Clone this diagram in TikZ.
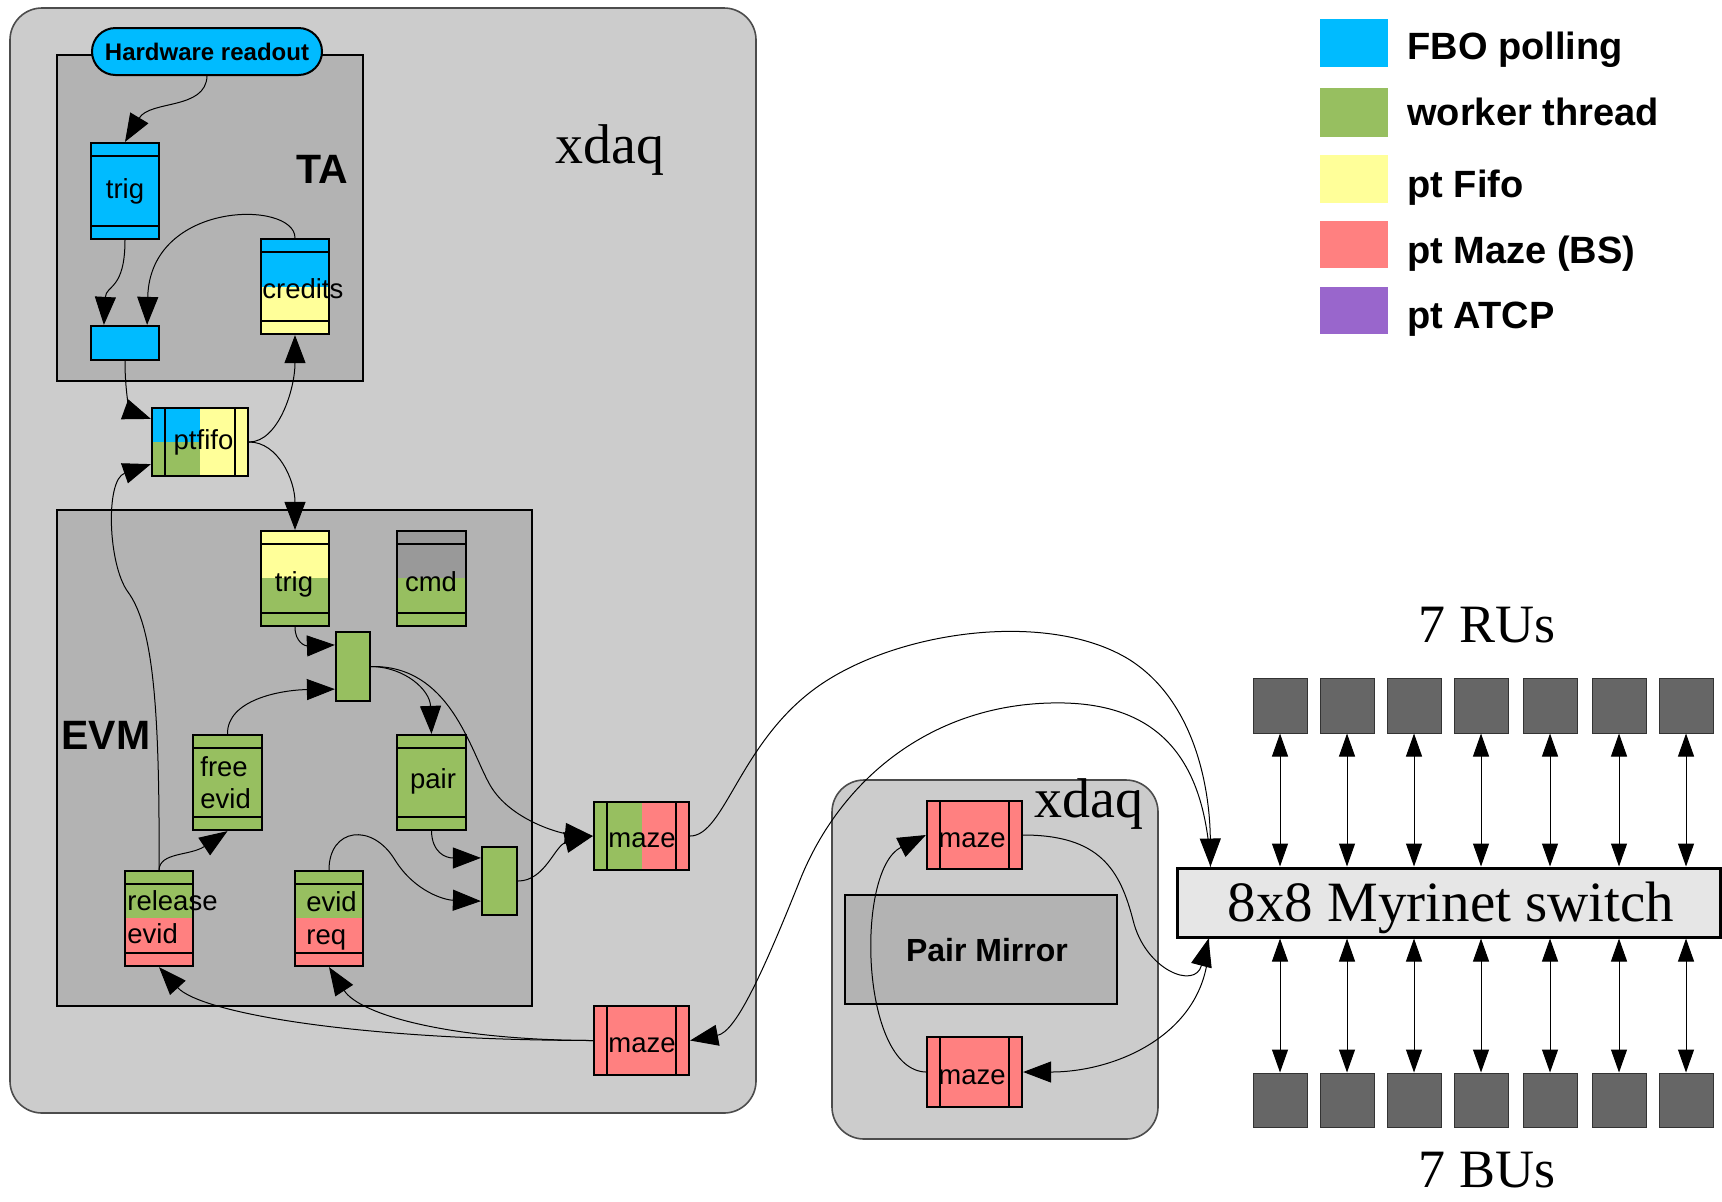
\documentclass[tikz,border=0pt]{standalone}
\usepackage{fontspec}
\setmainfont{Liberation Serif}
\setsansfont{Liberation Sans}
\usetikzlibrary{arrows.meta,fit,calc}
\definecolor{cblue}{RGB}{0,187,255}
\definecolor{cgreen}{RGB}{151,191,96}
\definecolor{cyel}{RGB}{255,255,153}
\definecolor{cred}{RGB}{255,128,128}
\definecolor{cpurp}{RGB}{153,102,204}
\definecolor{bgA}{RGB}{204,204,204}
\definecolor{bgB}{RGB}{179,179,179}
\definecolor{cgray}{RGB}{153,153,153}
\definecolor{cdark}{RGB}{102,102,102}
\definecolor{cswitch}{RGB}{230,230,230}
\newcommand{\vq}[8]{%
  \fill[#6] (#2,#3) rectangle (#4,#8);
  \fill[#7] (#2,#8) rectangle (#4,#5);
  \draw[line width=1.1pt] (#2,#3+13) -- (#4,#3+13) (#2,#5-13) -- (#4,#5-13);
  \node[qbox, fit={(#2,#3)(#4,#5)}] (#1) {};
}
\newcommand{\hqf}[5]{%
  \draw[line width=1.1pt] (#2+13,#3) -- (#2+13,#5) (#4-13,#3) -- (#4-13,#5);
  \node[qbox, fit={(#2,#3)(#4,#5)}] (#1) {};
}
\begin{document}
\begin{tikzpicture}[x=0.5pt,y=-0.5pt,
  qbox/.style={draw=black, line width=1.1pt, inner sep=0pt},
  conn/.style={line width=0.5pt, -{Triangle[length=14pt,width=10.5pt]}},
  dbl/.style={line width=0.5pt, {Triangle[length=11.5pt,width=8pt]}-{Triangle[length=11.5pt,width=8pt]}},
  lbl/.style={font=\sffamily\fontsize{13.75}{16}\selectfont, inner sep=0pt},
  blbl/.style={font=\sffamily\bfseries\fontsize{20.5}{24}\selectfont, inner sep=0pt},
  leg/.style={font=\sffamily\bfseries\fontsize{19}{22}\selectfont, inner sep=0pt, anchor=base west},
  serif/.style={font=\rmfamily\fontsize{28}{32}\selectfont, inner sep=0pt},
  xbox/.style={draw=black!70, line width=0.8pt, fill=bgA, inner sep=0pt, rounded corners=16pt},
  gbox/.style={draw=black, line width=1pt, fill=bgB, inner sep=0pt},
  unit/.style={draw=black!80, line width=0.5pt, fill=cdark, inner sep=0pt}]
\useasboundingbox (0,0) rectangle (1722,1201);
\fill[white] (0,0) rectangle (1722,1201);

% ---------- left xdaq ----------
\node[xbox, fit={(10,8)(756,1113)}] (xdaqA) {};
\node[serif, anchor=base] (xdaqAt) at (610,163) {xdaq};
\node[gbox, fit={(57,55)(363,381)}] (ta) {};
\node[gbox, fit={(57,510)(532,1006)}] (evm) {};
\node[blbl, anchor=base] (tat) at (322,183) {TA};
\node[blbl, anchor=base] (evmt) at (106,749) {EVM};

\node[draw=black, line width=1pt, fill=cblue, inner sep=0pt, rounded corners=11.75pt,
      fit={(92,28)(322,75)}] (hw) {};
\node[font=\sffamily\bfseries\fontsize{12}{14}\selectfont, inner sep=0pt] (hwt) at (207,51.5) {Hardware readout};

% TA boxes
\vq{trigTA}{91}{143}{159}{239}{cblue}{cblue}{190}
\fill[cblue] (91,326) rectangle (159,360);
\node[qbox, fit={(91,326)(159,360)}] (small) {};
\vq{credits}{261}{239}{329}{334}{cblue}{cyel}{287}

% ptfifo
\fill[cblue] (152,408) rectangle (200,442);
\fill[cgreen] (152,442) rectangle (200,476);
\fill[cyel] (200,408) rectangle (248,476);
\hqf{ptfifo}{152}{408}{248}{476}

% EVM boxes
\vq{trigEVM}{261}{531}{329}{626}{cyel}{cgreen}{578}
\vq{cmd}{397}{531}{466}{626}{cgray}{cgreen}{578}
\fill[cgreen] (336,632) rectangle (370,701);
\node[qbox, fit={(336,632)(370,701)}] (merge1) {};
\vq{freeevid}{193}{735}{262}{830}{cgreen}{cgreen}{780}
\vq{pair}{397}{735}{466}{830}{cgreen}{cgreen}{780}
\vq{release}{125}{871}{193}{966}{cgreen}{cred}{918}
\vq{evidreq}{295}{871}{363}{966}{cgreen}{cred}{918}
\fill[cgreen] (482,847) rectangle (517,915);
\node[qbox, fit={(482,847)(517,915)}] (merge2) {};

% mazes left
\fill[cgreen] (594,802) rectangle (642,870);
\fill[cred] (642,802) rectangle (689,870);
\hqf{maze1}{594}{802}{689}{870}
\fill[cred] (594,1006) rectangle (689,1075);
\hqf{maze3}{594}{1006}{689}{1075}

% labels in boxes
\node[lbl, anchor=base] (l1) at (125,198) {trig};
\node[lbl, anchor=base west] (l2) at (262,298) {credits};
\node[lbl, anchor=base] (l3) at (203.5,449) {ptfifo};
\node[lbl, anchor=base] (l4) at (294,591) {trig};
\node[lbl, anchor=base] (l5) at (431,591) {cmd};
\node[lbl, anchor=base west] (l6) at (200,776) {free};
\node[lbl, anchor=base west] (l7) at (200,808) {evid};
\node[lbl, anchor=base] (l8) at (433,788) {pair};
\node[lbl, anchor=base west] (l9) at (127,910) {release};
\node[lbl, anchor=base west] (l10) at (127,943) {evid};
\node[lbl, anchor=base] (l11) at (331.5,911) {evid};
\node[lbl, anchor=base west] (l12) at (306,944) {req};
\node[lbl, anchor=base] (l13) at (642,847) {maze};
\node[lbl, anchor=base] (l14) at (642,1052) {maze};

% ---------- right xdaq ----------
\node[xbox, fit={(832,780)(1158,1139)}] (xdaqB) {};
\node[serif, anchor=base] (xdaqBt) at (1089,817) {xdaq};
\node[draw=black, line width=0.8pt, fill=bgB, inner sep=0pt, fit={(845,895)(1117,1004)}] (pm) {};
\node[font=\sffamily\bfseries\fontsize{16}{19}\selectfont, inner sep=0pt, anchor=base] (pmt) at (987,961) {Pair Mirror};
\fill[cred] (927,801) rectangle (1022,869);
\hqf{maze2}{927}{801}{1022}{869}
\fill[cred] (927,1037) rectangle (1022,1107);
\hqf{maze4}{927}{1037}{1022}{1107}
\node[lbl, anchor=base] (l15) at (972,847) {maze};
\node[lbl, anchor=base] (l16) at (972,1084) {maze};

% ---------- switch and units ----------
\node[draw=black, line width=1.5pt, fill=cswitch, inner sep=0pt, fit={(1177,868)(1720,937)}] (sw) {};
\node[font=\rmfamily\fontsize{28.5}{32}\selectfont, inner sep=0pt, anchor=base] (swt) at (1451,921) {8x8 Myrinet switch};
\node[font=\rmfamily\fontsize{27}{30}\selectfont, inner sep=0pt, anchor=base] (rut) at (1487,642) {7 RUs};
\node[font=\rmfamily\fontsize{27}{30}\selectfont, inner sep=0pt, anchor=base] (but) at (1487,1187) {7 BUs};
\foreach \i/\x in {1/1253,2/1320,3/1387,4/1454,5/1523,6/1592,7/1659} {
  \node[unit, fit={(\x,678)(\x+54,733)}] (ru\i) {};
  \node[unit, fit={(\x,1073)(\x+54,1127)}] (bu\i) {};
  \draw[dbl] (ru\i.south) -- (ru\i.south |- sw.north);
  \draw[dbl] (sw.south -| bu\i.north) -- (bu\i.north);
}

% ---------- legend ----------
\node[fill=cblue, inner sep=0pt, fit={(1320,19)(1388,67)}] (lg1) {};
\node[fill=cgreen, inner sep=0pt, fit={(1320,88)(1388,137)}] (lg2) {};
\node[fill=cyel, inner sep=0pt, fit={(1320,155)(1388,203)}] (lg3) {};
\node[fill=cred, inner sep=0pt, fit={(1320,221)(1388,268)}] (lg4) {};
\node[fill=cpurp, inner sep=0pt, fit={(1320,287)(1388,334)}] (lg5) {};
\node[leg] (lt1) at (1407,59) {FBO polling};
\node[leg] (lt2) at (1407,125) {worker thread};
\node[leg] (lt3) at (1407,197) {pt Fifo};
\node[leg] (lt4) at (1407,263) {pt Maze (BS)};
\node[leg] (lt5) at (1407,328) {pt ATCP};

% ---------- connectors ----------
\draw[conn] (hw.south) .. controls (206,110) and (150,100) .. (trigTA.north);
\draw[conn] (trigTA.south) .. controls (125,290) and (106,285) .. ($(small.north west)+(14,0)$);
\draw[conn] (credits.north) .. controls (295,200) and (150,200) .. ($(small.north east)+(-13,0)$);
\draw[conn] (small.south) .. controls (125,400) and (132,412) .. ($(ptfifo.north west)+(0,12)$);
\draw[conn] (ptfifo.east) .. controls (278,442) and (295,390) .. (credits.south);
\draw[conn] (ptfifo.east) .. controls (278,442) and (295,480) .. (trigEVM.north);
\draw[conn] (release.north) .. controls (160,700) and (152,625) .. (128,592)
   .. controls (108,565) and (105,480) .. ($(ptfifo.south west)+(0,-13)$);
\draw[conn] (trigEVM.south) .. controls (295,642) and (305,646) .. ($(merge1.north west)+(0,14)$);
\draw[conn] (freeevid.north) .. controls (227,700) and (280,690) .. ($(merge1.south west)+(0,-13)$);
\draw[conn] (merge1.east) .. controls (405,667) and (430,690) .. (pair.north);
\draw[conn] (merge1.east) .. controls (450,665) and (470,750) .. (490,785)
   .. controls (510,820) and (560,833) .. (maze1.west);
\draw[conn] (pair.south) .. controls (432,852) and (445,858) .. ($(merge2.north west)+(0,12)$);
\draw[conn] (evidreq.north) .. controls (329,828) and (372,822) .. (395,860)
   .. controls (415,892) and (445,900) .. ($(merge2.south west)+(0,-15)$);
\draw[conn] (merge2.east) .. controls (545,881) and (555,845) .. (maze1.west);
\draw[conn] (release.north) .. controls (160,852) and (190,856) .. (freeevid.south);
\draw[conn] (maze3.west) .. controls (350,1040) and (200,1012) .. (release.south);
\draw[conn] (maze3.west) .. controls (450,1040) and (360,1015) .. (evidreq.south);
\coordinate (swin) at ($(sw.north west)+(35,0)$);
\coordinate (swout) at ($(sw.south west)+(33,0)$);
\draw[conn] (maze1.east) .. controls (725,836) and (740,740) .. (820,685)
   .. controls (900,630) and (1050,610) .. (1130,660)
   .. controls (1200,705) and (1210,800) .. (swin);
\draw[conn] (swin) .. controls (1205,760) and (1160,700) .. (1050,703)
   .. controls (930,706) and (840,780) .. (800,880)
   .. controls (760,980) and (735,1032) .. (maze3.east);
\draw[conn] (maze2.east) .. controls (1100,835) and (1120,870) .. (1133,920)
   .. controls (1145,970) and (1195,990) .. (swout);
\draw[conn] (swout) .. controls (1212,1030) and (1120,1072) .. (maze4.east);
\draw[conn] (maze4.west) .. controls (860,1070) and (855,870) .. (maze2.west);
\end{tikzpicture}
\end{document}
